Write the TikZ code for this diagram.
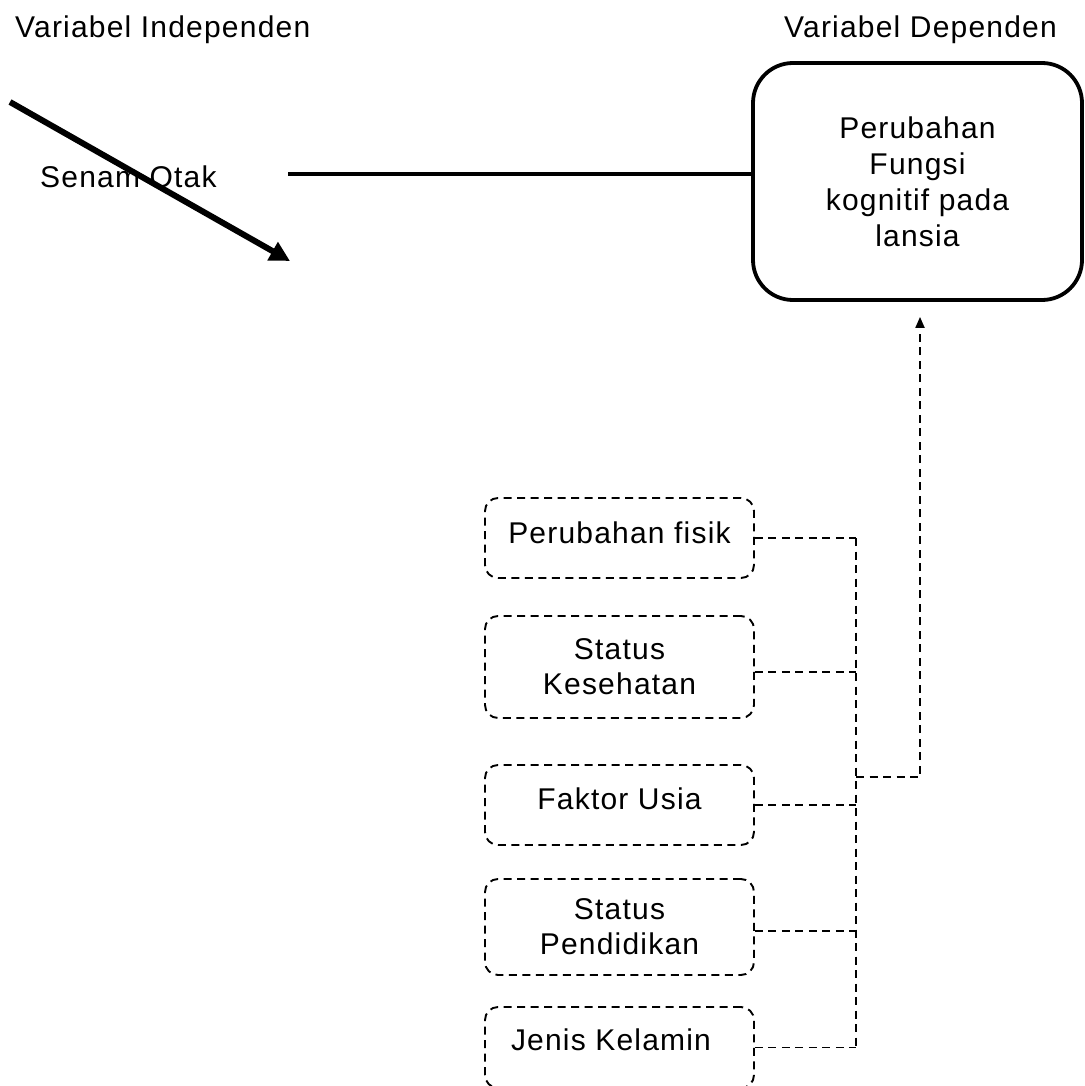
\documentclass[tikz,border=0pt]{standalone}
\usepackage{fontspec}
\setmainfont{Liberation Sans}[LetterSpace=4]
\usetikzlibrary{arrows.meta}
\begin{document}
\begin{tikzpicture}[x=1pt,y=-1pt,
  lbl/.style={font=\fontsize{30}{35.7}\selectfont, inner sep=0pt},
  depbox/.style={draw, line width=3.8pt, rounded corners=40pt, minimum width=329pt, minimum height=237pt, align=center, font=\fontsize{30}{35.9}\selectfont, inner sep=0pt},
  dbox/.style={draw, line width=1.9pt, dash pattern=on 8pt off 5.5pt, rounded corners=13pt, minimum width=269pt, align=center, font=\fontsize{30}{35.2}\selectfont, inner sep=0pt},
  dsh/.style={line width=1.9pt, dash pattern=on 8pt off 5.5pt},
  solidline/.style={line width=3.8pt}
]
\useasboundingbox (0,0) rectangle (1084,1086);

\node[lbl, anchor=base west] (tind) at (15,38) {Variabel Independen};
\node[lbl, anchor=base east] (tdep) at (1057,38) {Variabel Dependen};

\node[depbox] (dep) at (917.5,181.5) {Perubahan\\Fungsi\\kognitif pada\\lansia};

\node[lbl, anchor=base west] (senam) at (40,187) {Senam Otak};

\coordinate (d1) at (10,102);
\coordinate (d2) at (290,261);
\draw[line width=6pt, -{Triangle[length=20pt,width=20pt]}] (d1) -- (d2);

\coordinate (h1) at (288,174);
\draw[solidline] (h1) -- (h1 -| dep.west);

\node[dbox, minimum height=80pt, text height=22pt, text depth=12pt] (b1) at (619.5,538) {Perubahan fisik};
\node[dbox, minimum height=102pt] (b2) at (619.5,667) {Status\\Kesehatan};
\node[dbox, minimum height=80pt, text height=22pt, text depth=14pt] (b3) at (619.5,805) {Faktor Usia};
\node[dbox, minimum height=96pt] (b4) at (619.5,927) {Status\\Pendidikan};
\node[dbox, minimum height=81pt, text height=22pt, text depth=17pt] (b5) at (619.5,1047.5) {Jenis Kelamin\hspace*{17pt}};

\coordinate (jx) at (856,777);
\draw[dsh] (b1.east) -- (b1.east -| jx);
\draw[dsh] ([yshift=-5pt]b2.east) -- ([yshift=-5pt]b2.east -| jx);
\draw[dsh] (b3.east) -- (b3.east -| jx);
\draw[dsh] ([yshift=-4pt]b4.east) -- ([yshift=-4pt]b4.east -| jx);
\draw[dsh] (b5.east) -- (b5.east -| jx);
\draw[dsh] (b1.east -| jx) -- (b5.east -| jx);
\draw[dsh, -{Triangle[length=11pt,width=9pt]}] (jx) -| ([xshift=2.5pt,yshift=-15pt]dep.south);
\end{tikzpicture}
\end{document}
